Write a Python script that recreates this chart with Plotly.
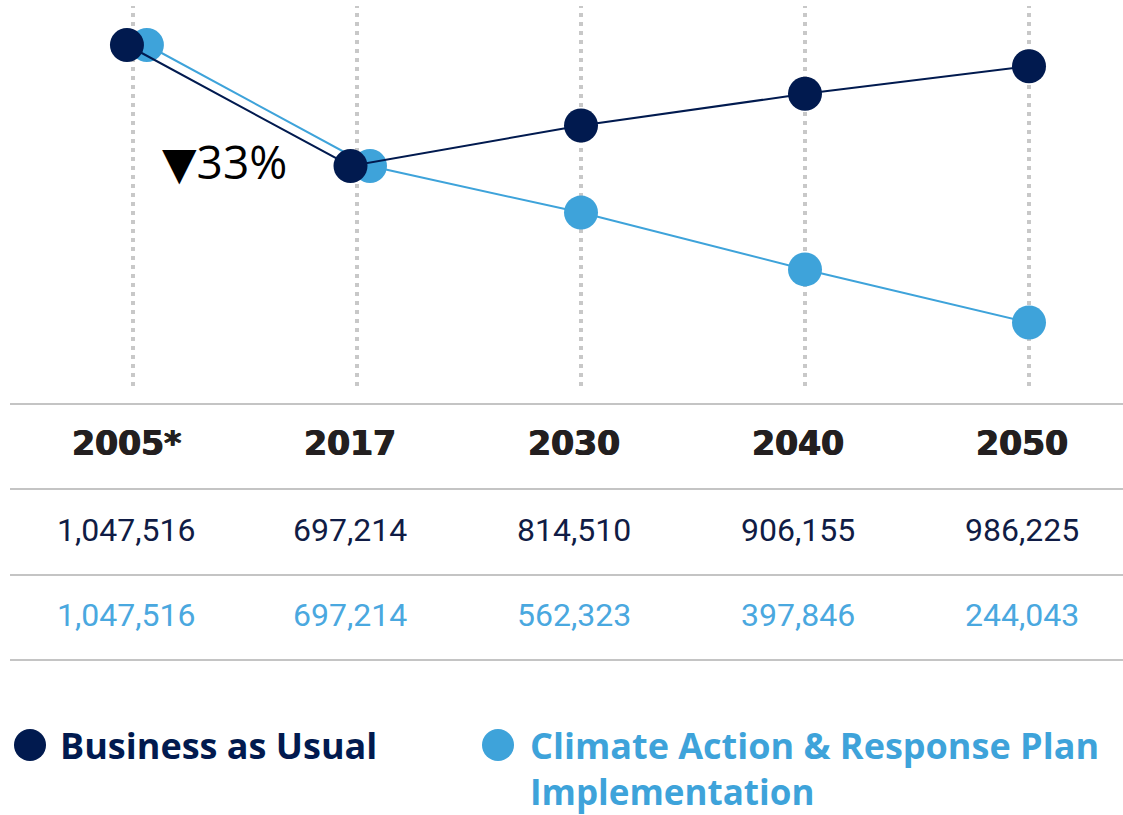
import plotly.graph_objects as go

# ---- data ----
years = ["2005*", "2017", "2030", "2040", "2050"]
bau = [1047516, 697214, 814510, 906155, 986225]
carp = [1047516, 697214, 562323, 397846, 244043]
bau_name = "Business as Usual"
carp_name = "Climate Action & Response Plan"
carp_name2 = "Implementation"
change_pct = "33%"

# ---- style ----
W, H = 1123, 815
NAVY = "#011A4F"
BLUE = "#3EA3DA"
GRID = "#C8C8C8"
RULE = "#C4C4C4"
# small horizontal dodge (index units) where the two series overlap
bau_dodge = [-0.027, -0.029, 0, 0, 0]
carp_dodge = [0.062, 0.058, 0, 0, 0]
table_shift = -0.03

idx = list(range(len(years)))

def ypx(px):
    return 1 - px / H

fig = go.Figure()
fig.add_trace(go.Scatter(
    x=[i + d for i, d in zip(idx, carp_dodge)], y=carp, mode="lines+markers",
    line=dict(color=BLUE, width=2), marker=dict(size=34, color=BLUE),
    name=carp_name, showlegend=False, hoverinfo="skip"))
fig.add_trace(go.Scatter(
    x=[i + d for i, d in zip(idx, bau_dodge)], y=bau, mode="lines+markers",
    line=dict(color=NAVY, width=2), marker=dict(size=34, color=NAVY),
    name=bau_name, showlegend=False, hoverinfo="skip"))

shapes = []
# vertical dotted guides
for i in idx:
    shapes.append(dict(type="line", xref="x", yref="paper", x0=i, x1=i,
                       y0=ypx(386), y1=ypx(6), layer="below",
                       line=dict(color=GRID, width=4, dash="4px,5px")))
# table rules
for py in [404, 489, 575, 660]:
    shapes.append(dict(type="line", xref="paper", yref="paper", x0=10 / W, x1=1,
                       y0=ypx(py), y1=ypx(py), line=dict(color=RULE, width=2)))
# legend dots
for cx, col in [(30, NAVY), (498, BLUE)]:
    shapes.append(dict(type="circle", xref="paper", yref="paper",
                       xsizemode="pixel", ysizemode="pixel",
                       xanchor=cx / W, yanchor=ypx(745),
                       x0=-16, x1=16, y0=-16, y1=16,
                       fillcolor=col, line=dict(width=0)))

annotations = []
for i, yr in enumerate(years):
    annotations.append(dict(x=i + table_shift, xref="x", y=ypx(444), yref="paper", text=f"<b>{yr}</b>",
                            showarrow=False, xanchor="center", yanchor="middle",
                            font=dict(family="DejaVu Sans", size=33, color="#231F20",
                                      shadow="0.8px 0 0 #231F20, -0.4px 0 0 #231F20")))
    annotations.append(dict(x=i + table_shift, xref="x", y=ypx(530), yref="paper", text=f"{bau[i]:,}",
                            showarrow=False, xanchor="center", yanchor="middle",
                            font=dict(family="Roboto", size=32, color="#101C45")))
    annotations.append(dict(x=i + table_shift, xref="x", y=ypx(615), yref="paper", text=f"{carp[i]:,}",
                            showarrow=False, xanchor="center", yanchor="middle",
                            font=dict(family="Roboto", size=32, color="#4AA8DF")))

annotations.append(dict(x=160 / W, xref="paper", y=ypx(161), yref="paper",
                        text=f"<span style=\"font-family:'DejaVu Sans';font-size:45px\">▼</span>{change_pct}",
                        showarrow=False, xanchor="left", yanchor="middle",
                        font=dict(family="Open Sans", size=46, color="#000000")))
LEG_FONT = "Open Sans"
annotations.append(dict(x=58 / W, xref="paper", y=ypx(745), yref="paper", text=f"<b>{bau_name}</b>",
                        showarrow=False, xanchor="left", yanchor="middle",
                        font=dict(family=LEG_FONT, size=36, color=NAVY)))
annotations.append(dict(x=528 / W, xref="paper", y=ypx(745), yref="paper",
                        text=f"<b>{carp_name.replace('&', '&amp;')}</b>",
                        showarrow=False, xanchor="left", yanchor="middle",
                        font=dict(family=LEG_FONT, size=36, color=BLUE)))
annotations.append(dict(x=528 / W, xref="paper", y=ypx(791), yref="paper", text=f"<b>{carp_name2}</b>",
                        showarrow=False, xanchor="left", yanchor="middle",
                        font=dict(family=LEG_FONT, size=35, color=BLUE)))

# axis ranges: index 0 at px 133, step 224 px; y: 1,047,516 at px 45, 697,214 at px 166
x_lo = -133 / 224
x_hi = (W - 133) / 224
px_per_unit = (166 - 45) / (bau[0] - bau[1])
y_top = bau[0] + 45 / px_per_unit
y_bot = bau[0] - (390 - 45) / px_per_unit

fig.update_layout(
    width=W, height=H, margin=dict(l=0, r=0, t=0, b=0),
    paper_bgcolor="white", plot_bgcolor="white",
    xaxis=dict(range=[x_lo, x_hi], visible=False, fixedrange=True),
    yaxis=dict(range=[y_bot, y_top], domain=[ypx(390), 1], visible=False, fixedrange=True),
    shapes=shapes, annotations=annotations, showlegend=False,
)
fig.write_html("out.html", config={"displayModeBar": False},
               post_script="document.body.style.margin='0';document.body.style.overflow='hidden';")
